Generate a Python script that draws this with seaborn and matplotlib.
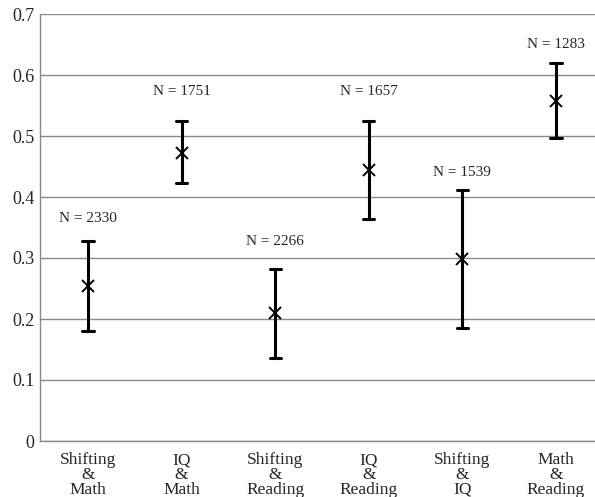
import pandas as pd
import matplotlib
matplotlib.use("Agg")
import matplotlib.pyplot as plt
import seaborn as sns

# correlation estimates with interval bounds
pairs = ["Shifting\n&\nMath", "IQ\n&\nMath", "Shifting\n&\nReading",
         "IQ\n&\nReading", "Shifting\n&\nIQ", "Math\n&\nReading"]
means = [0.254, 0.472, 0.210, 0.444, 0.298, 0.557]
lower = [0.180, 0.423, 0.136, 0.364, 0.185, 0.497]
upper = [0.328, 0.525, 0.282, 0.525, 0.411, 0.620]
n_obs = [2330, 1751, 2266, 1657, 1539, 1283]

# long table: median of (lower, mean, upper) is the mean, full range is the interval
df = pd.DataFrame({
    "pair": pairs * 3,
    "value": lower + means + upper,
})

sns.set_style("white")
plt.rcParams["font.family"] = ["Liberation Serif", "DejaVu Serif"]

fig = plt.figure(figsize=(5.95, 4.97), dpi=100)
ax = fig.add_axes([40 / 595, 56 / 497, 555 / 595, 427 / 497])

sns.pointplot(data=df, x="pair", y="value", order=pairs,
              estimator="median", errorbar=("pi", 100),
              linestyle="none", marker="x", markersize=8, markeredgewidth=1.4,
              color="black", capsize=0.12, err_kws={"linewidth": 2.2}, ax=ax)

# N labels above each interval (offsets in points, set by eye)
label_off = [16, 21, 20, 21, 13, 13]
for i, (hi, n) in enumerate(zip(upper, n_obs)):
    ax.annotate(f"N = {n}", (i, hi), xytext=(0, label_off[i]),
                textcoords="offset points", ha="center", va="center",
                fontsize=11)

ax.set_ylim(0, 0.7)
ax.set_xlim(-0.513, 5.417)
ax.set_yticks([0, 0.1, 0.2, 0.3, 0.4, 0.5, 0.6, 0.7])
ax.set_yticklabels(["0", "0.1", "0.2", "0.3", "0.4", "0.5", "0.6", "0.7"], fontsize=13)
ax.set_xticklabels(pairs, fontsize=12.5, linespacing=0.9)
ax.tick_params(axis="both", length=0)
ax.tick_params(axis="y", pad=4)
ax.tick_params(axis="x", pad=8)
ax.yaxis.grid(True, color="#8a8a8a", linewidth=1)
ax.set_axisbelow(True)
ax.set_xlabel("")
ax.set_ylabel("")
for side in ["top", "right"]:
    ax.spines[side].set_visible(False)
for side in ["left", "bottom"]:
    ax.spines[side].set_color("#8a8a8a")
    ax.spines[side].set_linewidth(1)

fig.savefig("out.png", dpi=100)
